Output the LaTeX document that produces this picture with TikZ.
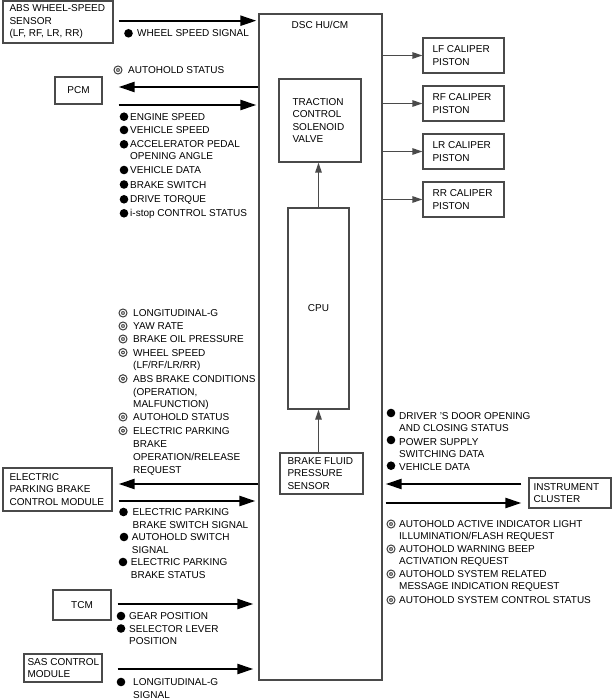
\documentclass[tikz,border=0pt]{standalone}
\usepackage{fontspec}
\setmainfont{Liberation Sans}
\usetikzlibrary{arrows.meta,calc}
\definecolor{boxc}{HTML}{4A4A4A}
\definecolor{ringc}{HTML}{3A3A3A}
\begin{document}
\begin{tikzpicture}[x=1pt,y=-1pt,
  box/.style={draw=boxc, line width=1.3pt, rectangle, inner sep=0pt},
  txt/.style={inner sep=0pt, align=left, font=\fontsize{10}{12.5}\selectfont},
  lbl/.style={txt, anchor=base west},
  dot/.style={circle, fill=black, inner sep=0pt, minimum size=8.6pt},
  ring/.style={circle, draw=ringc, double=white, line width=1.1pt, double distance=1.2pt, inner sep=0pt, minimum size=5.4pt},
  big/.style={line width=2.3pt, -{Triangle[length=16pt,width=10pt]}},
  thinarr/.style={draw=boxc, line width=1.3pt, -{Triangle[length=10pt,width=6.5pt]}}]
\fill[white] (0,0) rectangle (612,700);
\useasboundingbox (0,0) rectangle (612,700);

% ---------- boxes ----------
\node[box, minimum width=110pt, minimum height=42pt] (abs) at (58,22) {};
\node[txt, anchor=west] (abst) at ([xshift=7pt]abs.west) {ABS WHEEL-SPEED\\SENSOR\\(LF, RF, LR, RR)};
\node[box, minimum width=47pt, minimum height=27pt, font=\fontsize{10}{12}\selectfont] (pcm) at (78.5,90.5) {PCM};
\node[box, minimum width=123pt, minimum height=666pt] (dsc) at (320.5,347) {};
\node[txt, anchor=center] (dsct) at (320,25) {DSC HU/CM};
\node[box, minimum width=82pt, minimum height=83pt] (trac) at (320,120.5) {};
\node[txt, anchor=west] (tract) at ([xshift=14pt]trac.west) {TRACTION\\CONTROL\\SOLENOID\\VALVE};
\node[box, minimum width=61pt, minimum height=201pt, font=\fontsize{10}{12}\selectfont] (cpu) at (318.5,308.5) {CPU};
\node[box, minimum width=83pt, minimum height=41pt] (bf) at (321.5,473.5) {};
\node[txt, anchor=west] (bft) at ([xshift=8pt]bf.west) {BRAKE FLUID\\PRESSURE\\SENSOR};

\node[box, minimum width=81pt, minimum height=35pt] (lf) at (463.5,55.5) {};
\node[txt, anchor=west] (lft) at ([xshift=10pt]lf.west) {LF CALIPER\\PISTON};
\node[box, minimum width=81pt, minimum height=35pt] (rf) at (463.5,103.5) {};
\node[txt, anchor=west] (rft) at ([xshift=10pt]rf.west) {RF CALIPER\\PISTON};
\node[box, minimum width=81pt, minimum height=35pt] (lr) at (463.5,151.5) {};
\node[txt, anchor=west] (lrt) at ([xshift=10pt]lr.west) {LR CALIPER\\PISTON};
\node[box, minimum width=81pt, minimum height=35pt] (rr) at (463.5,199.5) {};
\node[txt, anchor=west] (rrt) at ([xshift=10pt]rr.west) {RR CALIPER\\PISTON};

\node[box, minimum width=109pt, minimum height=43pt] (epb) at (57.5,489.5) {};
\node[txt, anchor=west] (epbt) at ([xshift=7pt]epb.west) {ELECTRIC\\PARKING BRAKE\\CONTROL MODULE};
\node[box, minimum width=58pt, minimum height=30pt, font=\fontsize{10}{12}\selectfont] (tcm) at (82,605) {TCM};
\node[box, minimum width=78pt, minimum height=28pt] (sas) at (63,668) {};
\node[txt, anchor=west] (sast) at ([xshift=4pt]sas.west) {SAS CONTROL\\MODULE};
\node[box, minimum width=82pt, minimum height=30pt] (ic) at (570,493) {};
\node[txt, anchor=west] (ict) at ([xshift=5pt]ic.west) {INSTRUMENT\\CLUSTER};

% ---------- thick arrows ----------
\draw[big] ([xshift=5pt]abs.east |- 0,20.7) -- ([xshift=-2pt]dsc.west |- 0,20.7);
\draw[big] (dsc.west |- 0,87) -- ([xshift=16pt]pcm.east |- 0,87);
\draw[big] ([xshift=16pt]pcm.east |- 0,105) -- ([xshift=-2pt]dsc.west |- 0,105);
\draw[big] (dsc.west |- 0,484) -- ([xshift=6pt]epb.east |- 0,484);
\draw[big] ([xshift=6pt]epb.east |- 0,501) -- ([xshift=-3pt]dsc.west |- 0,501);
\draw[big] ([xshift=6pt]tcm.east |- 0,604) -- ([xshift=-5pt]dsc.west |- 0,604);
\draw[big] ([xshift=15pt]sas.east |- 0,669) -- ([xshift=-5pt]dsc.west |- 0,669);
\draw[big] ([xshift=-7pt]ic.west |- 0,484) -- ([xshift=3pt]dsc.east |- 0,484);
\draw[big] ([xshift=3pt]dsc.east |- 0,503) -- ([xshift=-7pt]ic.west |- 0,503);

% ---------- thin arrows ----------
\draw[thinarr] (dsc.east |- lf.west) -- (lf.west);
\draw[thinarr] (dsc.east |- rf.west) -- (rf.west);
\draw[thinarr] (dsc.east |- lr.west) -- (lr.west);
\draw[thinarr] (dsc.east |- rr.west) -- (rr.west);
\draw[thinarr] (cpu.north) -- (cpu.north |- trac.south);
\draw[thinarr] (cpu.south |- bf.north) -- (cpu.south);

% ---------- signals: ABS ----------
\node[dot] (s1) at (128.5,33.3) {};
\node[lbl] (l1) at (137,36.9) {WHEEL SPEED SIGNAL};

% ---------- signals: PCM ----------
\node[ring] (s2) at (118,70) {};
\node[lbl] (l2) at (128,73.6) {AUTOHOLD STATUS};
\node[dot] (s3) at (124,116.7) {};
\node[lbl] (l3) at (130,120.3) {ENGINE SPEED};
\node[dot] (s4) at (124,130) {};
\node[lbl] (l4) at (130,133.6) {VEHICLE SPEED};
\node[dot] (s5) at (124,144.3) {};
\node[lbl, font=\fontsize{10}{12}\selectfont] (l5) at (130,159.9) {ACCELERATOR PEDAL\\OPENING ANGLE};
\node[dot] (s6) at (124,170) {};
\node[lbl] (l6) at (130,173.6) {VEHICLE DATA};
\node[dot] (s7) at (124,184.5) {};
\node[lbl] (l7) at (130,188.1) {BRAKE SWITCH};
\node[dot] (s8) at (124,199.3) {};
\node[lbl] (l8) at (130,202.9) {DRIVE TORQUE};
\node[dot] (s9) at (124,213.3) {};
\node[lbl] (l9) at (130,216.9) {i-stop CONTROL STATUS};

% ---------- signals: to EPB ----------
\node[ring] (s10) at (123,313) {};
\node[lbl] (l10) at (133,316.6) {LONGITUDINAL-G};
\node[ring] (s11) at (123,326) {};
\node[lbl] (l11) at (133,329.6) {YAW RATE};
\node[ring] (s12) at (123,339) {};
\node[lbl] (l12) at (133,342.6) {BRAKE OIL PRESSURE};
\node[ring] (s13) at (123,352.5) {};
\node[lbl, font=\fontsize{10}{12.6}\selectfont] (l13) at (133,368.7) {WHEEL SPEED\\(LF/RF/LR/RR)};
\node[ring] (s14) at (123,378.7) {};
\node[lbl, font=\fontsize{10}{12.7}\selectfont] (l14) at (133,407.7) {ABS BRAKE CONDITIONS\\(OPERATION,\\MALFUNCTION)};
\node[ring] (s15) at (123,417) {};
\node[lbl] (l15) at (133,420.6) {AUTOHOLD STATUS};
\node[ring] (s16) at (123,430.7) {};
\node[lbl, font=\fontsize{10}{13}\selectfont] (l16) at (133,473.3) {ELECTRIC PARKING\\BRAKE\\OPERATION/RELEASE\\REQUEST};

% ---------- signals: from EPB ----------
\node[dot] (s17) at (123.5,512) {};
\node[lbl, font=\fontsize{10}{12.4}\selectfont] (l17) at (132.5,528) {ELECTRIC PARKING\\BRAKE SWITCH SIGNAL};
\node[dot] (s18) at (124,537) {};
\node[lbl, font=\fontsize{10}{12.4}\selectfont] (l18) at (131.7,553) {AUTOHOLD SWITCH\\SIGNAL};
\node[dot] (s19) at (123,562) {};
\node[lbl, font=\fontsize{10}{12.4}\selectfont] (l19) at (130.7,578) {ELECTRIC PARKING\\BRAKE STATUS};

% ---------- signals: TCM, SAS ----------
\node[dot] (s20) at (121,616) {};
\node[lbl] (l20) at (129,619.6) {GEAR POSITION};
\node[dot] (s21) at (121,628.5) {};
\node[lbl, font=\fontsize{10}{12}\selectfont] (l21) at (129,644.1) {SELECTOR LEVER\\POSITION};
\node[dot] (s22) at (121,682) {};
\node[lbl, font=\fontsize{10}{13}\selectfont] (l22) at (133,698.6) {LONGITUDINAL-G\\SIGNAL};

% ---------- signals: instrument cluster ----------
\node[dot] (s23) at (391,413) {};
\node[lbl, font=\fontsize{10}{12}\selectfont] (l23) at (399,431.6) {DRIVER 'S DOOR OPENING\\AND CLOSING STATUS};
\node[dot] (s24) at (391,440) {};
\node[lbl, font=\fontsize{10}{11.7}\selectfont] (l24) at (399,457.3) {POWER SUPPLY\\SWITCHING DATA};
\node[dot] (s25) at (391,465.7) {};
\node[lbl] (l25) at (399,470.6) {VEHICLE DATA};
\node[ring] (s26) at (391,524) {};
\node[lbl, font=\fontsize{10}{12.3}\selectfont] (l26) at (399,539.9) {AUTOHOLD ACTIVE INDICATOR LIGHT\\ILLUMINATION/FLASH REQUEST};
\node[ring] (s27) at (391,549) {};
\node[lbl, font=\fontsize{10}{12.3}\selectfont] (l27) at (399,564.9) {AUTOHOLD WARNING BEEP\\ACTIVATION REQUEST};
\node[ring] (s28) at (391,574) {};
\node[lbl, font=\fontsize{10}{12.3}\selectfont] (l28) at (399,589.9) {AUTOHOLD SYSTEM RELATED\\MESSAGE INDICATION REQUEST};
\node[ring] (s29) at (391,600) {};
\node[lbl] (l29) at (399,603.6) {AUTOHOLD SYSTEM CONTROL STATUS};
\end{tikzpicture}
\end{document}
